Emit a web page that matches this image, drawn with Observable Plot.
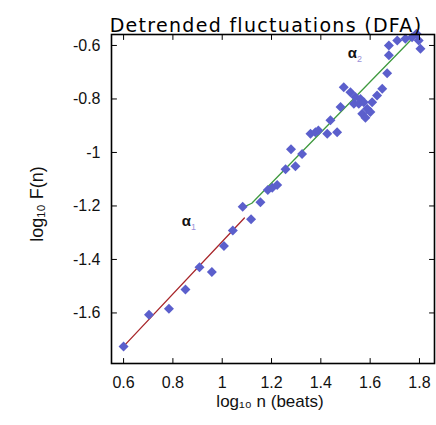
<!DOCTYPE html>
<html><head><meta charset="utf-8">
<script src="https://cdn.jsdelivr.net/npm/d3@7"></script>
<script src="https://cdn.jsdelivr.net/npm/@observablehq/plot@0.6"></script>
<style>body{margin:0;background:#fff}</style>
</head><body><div id="chart"></div>
<script>
const titleText = "Detrended fluctuations (DFA)";
const xLabel = "log\u2081\u2080 n (beats)";
const yLabel = "log\u2081\u2080 F(n)";
const xTicks = [0.6, 0.8, 1, 1.2, 1.4, 1.6, 1.8];
const yTicks = [-1.6, -1.4, -1.2, -1, -0.8, -0.6];

const pointX = [0.600, 0.703, 0.784, 0.851, 0.908, 0.958, 1.007, 1.043, 1.083, 1.117,
  1.155, 1.185, 1.203, 1.223, 1.257, 1.279, 1.297, 1.324, 1.358, 1.378,
  1.390, 1.426, 1.439, 1.466, 1.480, 1.493, 1.520, 1.534, 1.540, 1.561,
  1.554, 1.574, 1.588, 1.601, 1.568, 1.581, 1.608, 1.628, 1.649, 1.669,
  1.676, 1.676, 1.710, 1.743, 1.770, 1.788, 1.797, 1.804];
const pointY = [-1.725, -1.607, -1.584, -1.512, -1.429, -1.447, -1.350, -1.292, -1.203, -1.250,
  -1.186, -1.140, -1.132, -1.122, -1.063, -0.988, -1.052, -1.006, -0.930, -0.924,
  -0.918, -0.930, -0.880, -0.924, -0.830, -0.756, -0.775, -0.818, -0.793, -0.800,
  -0.818, -0.812, -0.837, -0.849, -0.855, -0.870, -0.812, -0.787, -0.762, -0.704,
  -0.637, -0.600, -0.581, -0.575, -0.569, -0.556, -0.581, -0.612];

const fit1X = [0.600, 1.090];
const fit1Y = [-1.725, -1.245];
const fit2X = [1.085, 1.120, 1.790];
const fit2Y = [-1.205, -1.190, -0.556];

const annoX = [0.855, 1.528];
const annoY = [-1.258, -0.630];
const annoSub = ["1", "2"];

const points = pointX.map((x, i) => ({x, y: pointY[i]}));
const fit1 = fit1X.map((x, i) => ({x, y: fit1Y[i]}));
const fit2 = fit2X.map((x, i) => ({x, y: fit2Y[i]}));
const annos = annoX.map((x, i) => ({x, y: annoY[i], sub: annoSub[i]}));

const tickShape = {draw(context, l) { context.moveTo(0, 0); context.lineTo(0, -l); }};
const tickOpts = {length: 5, anchor: "start", shape: tickShape, stroke: "#000", strokeWidth: 1};

const plot = Plot.plot({
  width: 436, height: 425,
  marginLeft: 111, marginRight: 2, marginTop: 34, marginBottom: 62,
  x: {domain: [0.551, 1.861]},
  y: {domain: [-1.789, -0.559]},
  style: {fontFamily: "'Liberation Sans', Arial, sans-serif", fontSize: "16px", color: "#111", background: "#fff"},
  marks: [
    Plot.line(fit1, {x: "x", y: "y", stroke: "#a8262a", strokeWidth: 1.3}),
    Plot.line(fit2, {x: "x", y: "y", stroke: "#3f9a3f", strokeWidth: 1.3}),
    Plot.dot(points, {x: "x", y: "y", symbol: "diamond2", r: 4.5, fill: "#5b5fcc", stroke: "none"}),
    Plot.text(annos, {x: "x", y: "y", text: () => "\u03b1", fontSize: 15, fill: "#111", fontWeight: "bold"}),
    Plot.text(annos, {x: "x", y: "y", text: "sub", dx: 7, dy: 6, fontSize: 9, fill: "#9a8fd8"}),
    Plot.frame({stroke: "#000", strokeWidth: 1.6}),
    Plot.vector(xTicks, {x: d => d, frameAnchor: "bottom", rotate: 0, ...tickOpts}),
    Plot.vector(xTicks, {x: d => d, frameAnchor: "top", rotate: 180, ...tickOpts}),
    Plot.vector(yTicks, {y: d => d, frameAnchor: "left", rotate: 90, ...tickOpts}),
    Plot.vector(yTicks, {y: d => d, frameAnchor: "right", rotate: 270, ...tickOpts}),
    Plot.axisX({anchor: "bottom", ticks: xTicks, tickSize: 0, tickPadding: 13, tickFormat: d => String(d), label: null, fontSize: 16}),
    Plot.axisY({anchor: "left", ticks: yTicks, tickSize: 0, tickPadding: 11, tickFormat: d => String(d), label: null, fontSize: 16}),
    Plot.text([titleText], {frameAnchor: "top", textAnchor: "middle", dx: -7, dy: -16, fontSize: 19, fontFamily: "'DejaVu Sans', sans-serif", fill: "#000"}),
    Plot.text([xLabel], {frameAnchor: "bottom", textAnchor: "middle", dx: -3, dy: 43, fontSize: 17, fill: "#111"}),
    Plot.text([yLabel], {frameAnchor: "left", textAnchor: "middle", rotate: -90, dx: -74, dy: 5, fontSize: 18, fill: "#111"})
  ]
});
d3.select(plot).selectAll("text").filter(function() { return this.textContent === titleText; })
  .attr("letter-spacing", "1.3");
document.getElementById("chart").appendChild(plot);
</script>
</body></html>
